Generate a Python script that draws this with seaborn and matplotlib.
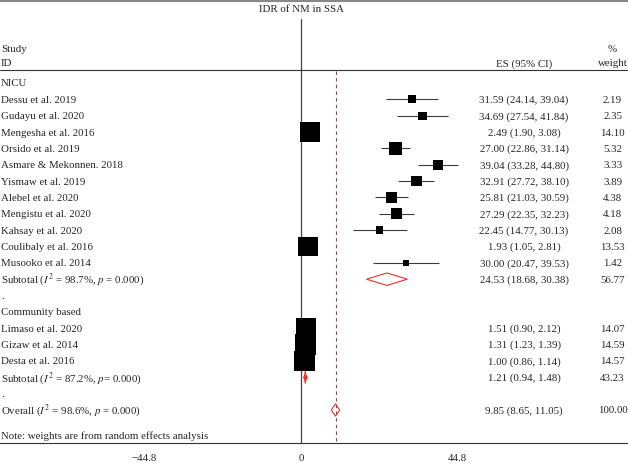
import numpy as np
import pandas as pd
import seaborn as sns
import matplotlib
matplotlib.use("Agg")
import matplotlib.pyplot as plt

# %% data

nicu_studies = ["Dessu et al. 2019", "Gudayu et al. 2020", "Mengesha et al. 2016",
                "Orsido et al. 2019", "Asmare & Mekonnen. 2018", "Yismaw et al. 2019",
                "Alebel et al. 2020", "Mengistu et al. 2020", "Kahsay et al. 2020",
                "Coulibaly et al. 2016", "Musooko et al. 2014"]
nicu_es = [31.59, 34.69, 2.49, 27.00, 39.04, 32.91, 25.81, 27.29, 22.45, 1.93, 30.00]
nicu_lo = [24.14, 27.54, 1.90, 22.86, 33.28, 27.72, 21.03, 22.35, 14.77, 1.05, 20.47]
nicu_hi = [39.04, 41.84, 3.08, 31.14, 44.80, 38.10, 30.59, 32.23, 30.13, 2.81, 39.53]
nicu_w = [2.19, 2.35, 14.10, 5.32, 3.33, 3.89, 4.38, 4.18, 2.08, 13.53, 1.42]

comm_studies = ["Limaso et al. 2020", "Gizaw et al. 2014", "Desta et al. 2016"]
comm_es = [1.51, 1.31, 1.00]
comm_lo = [0.90, 1.23, 0.86]
comm_hi = [2.12, 1.39, 1.14]
comm_w = [14.07, 14.59, 14.57]

pooled_labels = ["Subtotal ($I^2$ = 98.7%, $p$ = 0.000)",
                 "Subtotal ($I^2$ = 87.2%, $p$= 0.000)",
                 "Overall ($I^2$ = 98.6%, $p$ = 0.000)"]
pooled_es = [24.53, 1.21, 9.85]
pooled_lo = [18.68, 0.94, 8.65]
pooled_hi = [30.38, 1.48, 11.05]
pooled_w = [56.77, 43.23, 100.00]

xticks = [-44.8, 0, 44.8]

# %% build study table

studies = pd.DataFrame({
    "study": nicu_studies + comm_studies,
    "es": nicu_es + comm_es,
    "lo": nicu_lo + comm_lo,
    "hi": nicu_hi + comm_hi,
    "weight": nicu_w + comm_w,
})
studies["row"] = list(range(1, 12)) + [15, 16, 17]
pooled_rows = [12, 18, 20]

# %% style

sns.set_style("white")
plt.rcParams["font.family"] = ["Liberation Serif", "DejaVu Serif"]
plt.rcParams["mathtext.fontset"] = "stix"
fs = 7.8

fig = plt.figure(figsize=(6.28, 4.64), dpi=100)
ax = fig.add_axes([0, 20 / 464, 1, 444 / 464])

px = 16.35  # pixels per row
ax.set_xlim(-86.0, 93.4)
ax.set_ylim((444 - 84) / px, -84 / px)

x_left = -85.7
x_es = 63.7
x_w = 89.0

# CI lines
ax.hlines(studies["row"], studies["lo"], studies["hi"], color="#3a3a3a", lw=0.8, zorder=2)

# weighted squares (area ~ weight)
k = 14.7
sns.scatterplot(data=studies, x="es", y="row", size="weight",
                sizes=(k * studies["weight"].min(), k * studies["weight"].max()),
                size_norm=(studies["weight"].min(), studies["weight"].max()),
                marker="s", color="black", linewidth=0, legend=False, ax=ax, zorder=3)

# pooled diamonds
for r, e, lo, hi in zip(pooled_rows, pooled_es, pooled_lo, pooled_hi):
    h = 0.38
    ax.fill([lo, e, hi, e, lo], [r, r - h, r, r + h, r], facecolor="none",
            edgecolor="#e8342f", lw=0.8, zorder=4)
ax.plot(pooled_es[1], pooled_rows[1], marker="o", ms=2.3, color="#e8342f", zorder=4)

# null line and overall line
ax.plot([0, 0], [(20 - 84) / px, (444 - 84) / px], color="#444444", lw=0.9, zorder=1)
ax.plot([pooled_es[2], pooled_es[2]], [(72 - 84) / px, (444 - 84) / px],
        color="#9a4040", lw=0.8, ls=(0, (3, 3)), zorder=1)

# header line and top border
ax.axhline((71 - 84) / px, color="#333333", lw=0.8)
ax.axhline((1.5 - 84) / px, color="#888888", lw=1.5)

# texts
ax.text(0, (10 - 84) / px, "IDR of NM in SSA", ha="center", va="center", fontsize=fs)
ax.text(x_left, (50 - 84) / px, "Study", ha="left", va="center", fontsize=fs)
ax.text(x_left, (64 - 84) / px, "ID", ha="left", va="center", fontsize=fs)
ax.text(x_w, (50 - 84) / px, "%", ha="center", va="center", fontsize=fs)
ax.text(x_w, (64 - 84) / px, "weight", ha="center", va="center", fontsize=fs)
ax.text(x_es, (64 - 84) / px, "ES (95% CI)", ha="center", va="center", fontsize=fs)

ax.text(x_left, 0, "NICU", ha="left", va="center", fontsize=fs)
ax.text(x_left, 13, ".", ha="left", va="center", fontsize=fs)
ax.text(x_left, 14, "Community based", ha="left", va="center", fontsize=fs)
ax.text(x_left, 19, ".", ha="left", va="center", fontsize=fs)
ax.text(x_left, (436 - 84) / px, "Note: weights are from random effects analysis",
        ha="left", va="center", fontsize=fs)

for _, s in studies.iterrows():
    ax.text(x_left, s["row"], s["study"], ha="left", va="center", fontsize=fs)
    ax.text(x_es, s["row"], f"{s['es']:.2f} ({s['lo']:.2f}, {s['hi']:.2f})",
            ha="center", va="center", fontsize=fs)
    ax.text(x_w, s["row"], f"{s['weight']:.2f}", ha="center", va="center", fontsize=fs)

for r, lab, e, lo, hi, w in zip(pooled_rows, pooled_labels, pooled_es, pooled_lo, pooled_hi, pooled_w):
    ax.text(x_left, r, lab, ha="left", va="center", fontsize=fs)
    ax.text(x_es, r, f"{e:.2f} ({lo:.2f}, {hi:.2f})", ha="center", va="center", fontsize=fs)
    ax.text(x_w, r, f"{w:.2f}", ha="center", va="center", fontsize=fs)

# axis
for side in ["top", "right", "left"]:
    ax.spines[side].set_visible(False)
ax.spines["bottom"].set_color("#333333")
ax.spines["bottom"].set_linewidth(0.8)
ax.set_xticks(xticks)
ax.set_xticklabels(["\u221244.8", "0", "44.8"], fontsize=fs)
ax.tick_params(axis="x", direction="out", length=4, width=0.8, color="#333333", pad=3)
ax.set_yticks([])
ax.set_xlabel("")
ax.set_ylabel("")

fig.savefig("out.png", dpi=100)
